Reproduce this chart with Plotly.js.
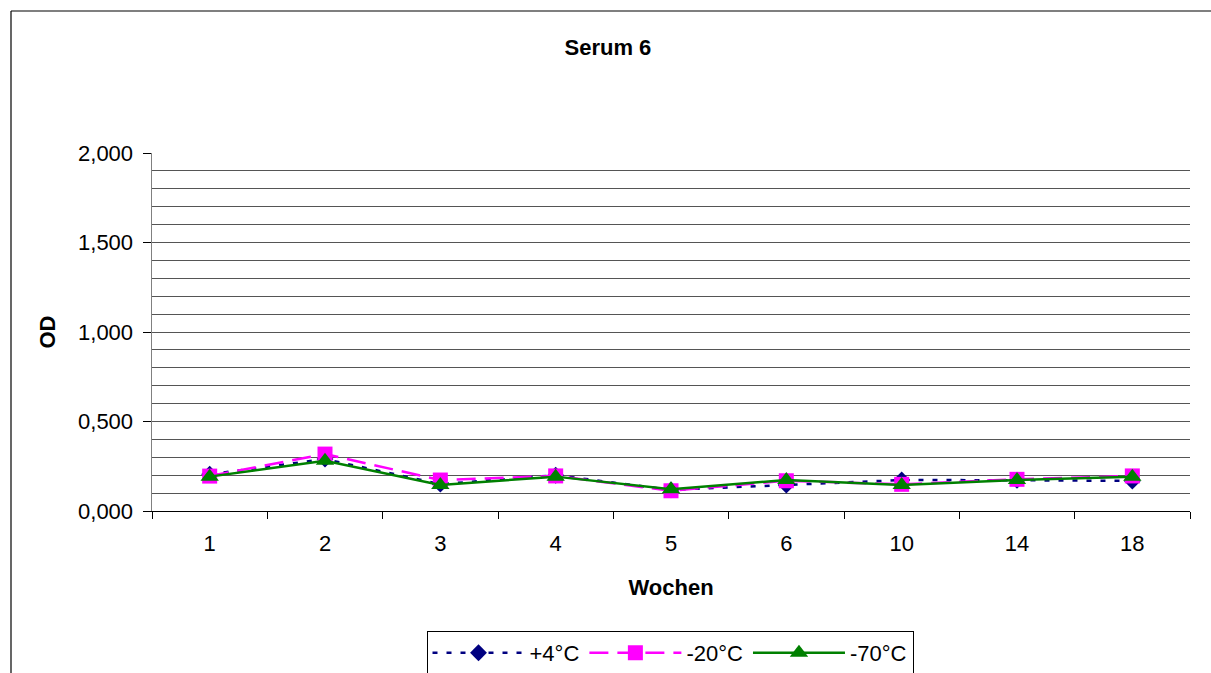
<!DOCTYPE html>
<html>
<head>
<meta charset="utf-8">
<script src="https://cdn.plot.ly/plotly-3.0.1.min.js"></script>
<style>
  html, body { margin: 0; padding: 0; background: #fff; overflow: hidden; }
  #chart { width: 1211px; height: 673px; }
</style>
</head>
<body>
<div id="chart"></div>
<script>
// Weeks of storage (categorical x axis)
const weeks = ['1', '2', '3', '4', '5', '6', '10', '14', '18'];

// Optical density per storage temperature
const od_plus4  = [0.205, 0.290, 0.150, 0.200, 0.118, 0.145, 0.173, 0.172, 0.168];
const od_minus20 = [0.195, 0.318, 0.173, 0.196, 0.113, 0.169, 0.149, 0.177, 0.196];
const od_minus70 = [0.192, 0.281, 0.145, 0.192, 0.121, 0.173, 0.145, 0.173, 0.192];

const seriesNames = ['+4°C', '-20°C', '-70°C'];
const yTicks = [0, 0.5, 1.0, 1.5, 2.0];

const FONT = 'Arial, "Liberation Sans", sans-serif';

const traces = [
  {
    x: weeks, y: od_plus4, name: seriesNames[0],
    type: 'scatter', mode: 'lines+markers',
    line: { color: '#000080', width: 2.5, dash: '5px,9px' },
    marker: { symbol: 'diamond', size: 13, color: '#000080' }
  },
  {
    x: weeks, y: od_minus20, name: seriesNames[1],
    type: 'scatter', mode: 'lines+markers',
    line: { color: '#FF00FF', width: 2.5, dash: '19px,9px' },
    marker: { symbol: 'square', size: 15, color: '#FF00FF' }
  },
  {
    x: weeks, y: od_minus70, name: seriesNames[2],
    type: 'scatter', mode: 'lines+markers',
    line: { color: '#008000', width: 2.5 },
    marker: { symbol: 'triangle-up', size: 16, color: '#008000' }
  }
];

const W = 1211, H = 673;
const M = { l: 152, r: 21, t: 153, b: 162 };
const pw = W - M.l - M.r, ph = H - M.t - M.b;
// outer frame position in paper units
const frameX = (11 - M.l) / pw;
const frameTop = 1 + (M.t - 11) / ph;
const frameBottom = -(M.b + 5) / ph;
const frameRight = 1 + (M.r + 5) / pw;

const layout = {
  width: W, height: H,
  margin: M,
  paper_bgcolor: '#ffffff',
  plot_bgcolor: '#ffffff',
  separators: ',.',
  font: { family: FONT, size: 22, color: '#000' },
  showlegend: true,
  title: {
    text: '<b>Serum 6</b>',
    font: { family: FONT, size: 22, color: '#000' },
    x: 0.502, xref: 'container', xanchor: 'center',
    y: 1 - 47 / H, yref: 'container', yanchor: 'middle'
  },
  xaxis: {
    type: 'category',
    range: [-0.5, weeks.length - 0.5],
    tickson: 'boundaries',
    ticks: 'outside', ticklen: 7, tickcolor: '#000', tickwidth: 1,
    ticklabelstandoff: 13,
    showline: true, linecolor: '#000', linewidth: 1,
    showgrid: false, zeroline: false,
    tickfont: { family: FONT, size: 22, color: '#000' },
    title: { text: '<b>Wochen</b>', font: { family: FONT, size: 22, color: '#000' }, standoff: 24 }
  },
  yaxis: {
    range: [0, 2],
    tickvals: yTicks,
    tickformat: '.3f',
    ticks: 'outside', ticklen: 8, tickcolor: '#000', tickwidth: 1,
    ticklabelstandoff: 5,
    showline: true, linecolor: '#808080', linewidth: 1.5,
    showgrid: true, gridcolor: '#555555', gridwidth: 1,
    minor: { dtick: 0.1, showgrid: true, gridcolor: '#555555', gridwidth: 1, ticks: '' },
    zeroline: false,
    tickfont: { family: FONT, size: 22, color: '#000' },
    title: { text: '<b>OD</b>', font: { family: FONT, size: 22, color: '#000' }, standoff: 16 }
  },
  legend: {
    orientation: 'h',
    xref: 'container', yref: 'container',
    x: 670 / W, xanchor: 'center',
    y: 1 - 631 / H, yanchor: 'top',
    bordercolor: '#000', borderwidth: 1, bgcolor: '#fff',
    font: { family: FONT, size: 22, color: '#000' },
    itemwidth: 92,
    traceorder: 'normal'
  },
  shapes: [
    { type: 'line', xref: 'paper', yref: 'paper', x0: frameX, x1: frameX, y0: frameBottom, y1: frameTop,
      line: { color: '#000', width: 1.2 } },
    { type: 'line', xref: 'paper', yref: 'paper', x0: frameX, x1: frameRight, y0: frameTop, y1: frameTop,
      line: { color: '#000', width: 1.2 } }
  ]
};

Plotly.newPlot('chart', traces, layout, { staticPlot: true, displayModeBar: false });
</script>
</body>
</html>
